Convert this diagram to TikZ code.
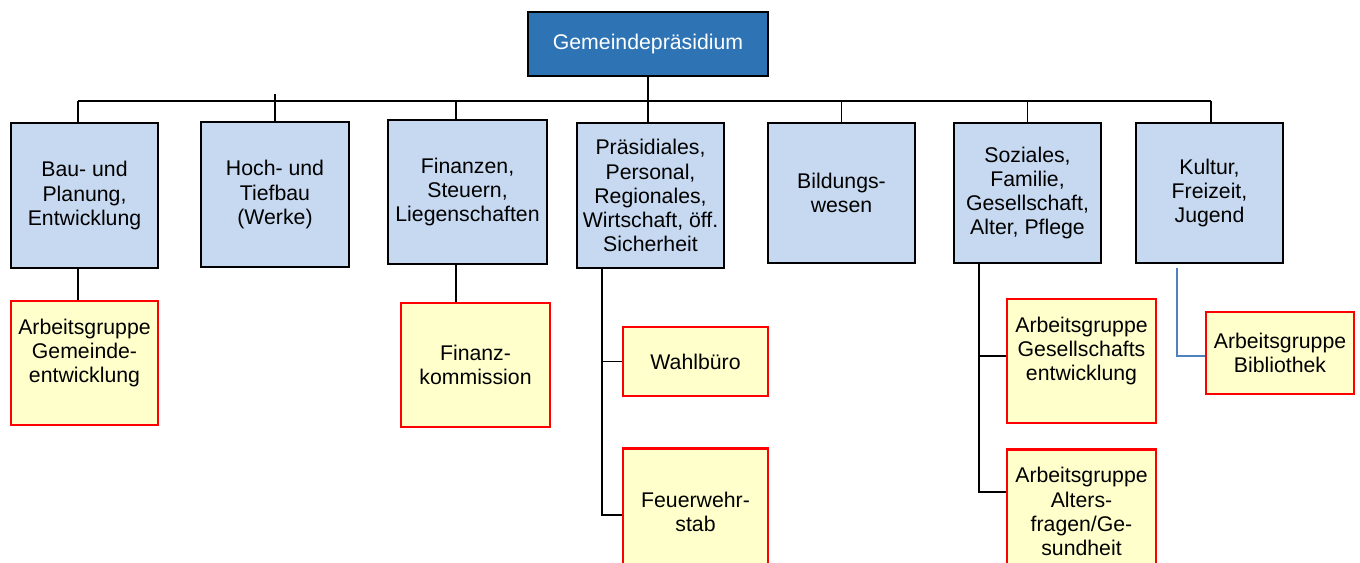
\documentclass[tikz,border=0pt]{standalone}
\usepackage{fontspec}
\setmainfont{Liberation Sans}
\usepackage{xcolor}
\usepackage{tikz}
\usetikzlibrary{positioning}

\definecolor{headblue}{HTML}{2E74B5}
\definecolor{deptblue}{HTML}{C6D9F1}
\definecolor{groupyellow}{HTML}{FFFFCC}
\definecolor{linkblue}{HTML}{4F81BD}

\newdimen\unitpx
\unitpx=0.02cm

\begin{document}
\begin{tikzpicture}[
    x=0.02cm, y=-0.02cm,
    font=\fontsize{12.1}{13.7}\selectfont,
    headbox/.style={rectangle, draw=black, line width=1.1pt, fill=headblue, text=white, minimum width=240\unitpx, minimum height=64\unitpx, inner sep=0pt},
    deptbox/.style={rectangle, draw=black, line width=1.1pt, fill=deptblue, align=center, minimum width=147\unitpx, minimum height=145\unitpx, inner sep=0pt},
    groupbox/.style={rectangle, draw=red, line width=1.4pt, fill=groupyellow, align=center, minimum width=148\unitpx, minimum height=124\unitpx, inner sep=0pt},
    link/.style={draw=black, line width=1.1pt},
    bluelink/.style={draw=linkblue, line width=0.9pt}
]
\useasboundingbox (0,0) rectangle (1360,562);
\clip (0,0) rectangle (1360,562);

\node[headbox] (head) at (648,44) {Gemeindepräsidium};

\node[deptbox] (bau) at (84.5,195.5) {Bau- und\\Planung,\\Entwicklung};
\node[deptbox, minimum width=148\unitpx] (hoch) at (275,194.5) {Hoch- und\\Tiefbau\\(Werke)};
\node[deptbox, minimum width=159\unitpx, minimum height=144\unitpx] (fin) at (467.5,192) {Finanzen,\\Steuern,\\Liegenschaften};
\node[deptbox] (praes) at (650.5,195.5) {Präsidiales,\\Personal,\\Regionales,\\Wirtschaft, öff.\\Sicherheit};
\node[deptbox, minimum height=140\unitpx] (bild) at (841.5,193) {Bildungs-\\wesen};
\node[deptbox, minimum height=140\unitpx] (soz) at (1027.5,193) {Soziales,\\Familie,\\Gesellschaft,\\Alter, Pflege};
\node[deptbox, minimum height=140\unitpx] (kult) at (1209.5,193) {Kultur,\\Freizeit,\\Jugend};

\node[groupbox, minimum width=147\unitpx, below=0.62cm of bau] (gem) {Arbeitsgruppe\\Gemeinde-\\entwicklung\\ \mbox{}};
\node[groupbox, minimum width=149\unitpx] (fiko) at (475.5,365) {Finanz-\\kommission};
\node[groupbox, minimum width=145\unitpx, minimum height=69\unitpx] (wahl) at (695.5,361.5) {Wahlbüro};
\node[groupbox, minimum width=145\unitpx, minimum height=126\unitpx, below=1cm of wahl] (feuer) {Feuerwehr-\\stab};
\node[groupbox, minimum width=149\unitpx] (gesell) at (1081.5,361) {Arbeitsgruppe\\Gesellschafts\\entwicklung\\ \mbox{}};
\node[groupbox, minimum width=149\unitpx, below=0.48cm of gesell] (alters) {Arbeitsgruppe\\Alters-\\fragen/Ge-\\sundheit};
\node[groupbox, minimum height=82\unitpx] (bib) at (1280,353) {Arbeitsgruppe\\Bibliothek};

% bus line
\coordinate (busL) at (78,101);
\coordinate (busR) at (1211,101);
\coordinate (tick) at (0,94);
\coordinate (xFin) at (456,0);
\coordinate (xPr) at (602,0);
\coordinate (xSoz) at (979,0);
\coordinate (kulOut) at (1177,268);

\draw[link] (busL) -- (busR);
\draw[link] (head.south) -- (praes.north -| head.south);
\draw[link] (busL) -- (bau.north -| busL);
\draw[link] (hoch.north |- tick) -- (hoch.north);
\draw[link] (xFin |- busL) -- (fin.north -| xFin);
\draw[link] (bild.north |- busL) -- (bild.north);
\draw[link] (soz.north |- busL) -- (soz.north);
\draw[link] (busR) -- (kult.north -| busR);

% sub groups
\draw[link] (bau.south -| busL) -- (gem.north -| busL);
\draw[link] (fin.south -| xFin) -- (fiko.north -| xFin);
\draw[link] (praes.south -| xPr) |- ([yshift=-4\unitpx]feuer.west);
\draw[link] (wahl.west) -- (wahl.west -| xPr);
\draw[link] (soz.south -| xSoz) |- ([yshift=19\unitpx]alters.west);
\draw[link] ([yshift=5\unitpx]gesell.west) -- ++(-28,0);
\draw[bluelink] (kulOut) |- ([yshift=-3\unitpx]bib.west);

\end{tikzpicture}
\end{document}
